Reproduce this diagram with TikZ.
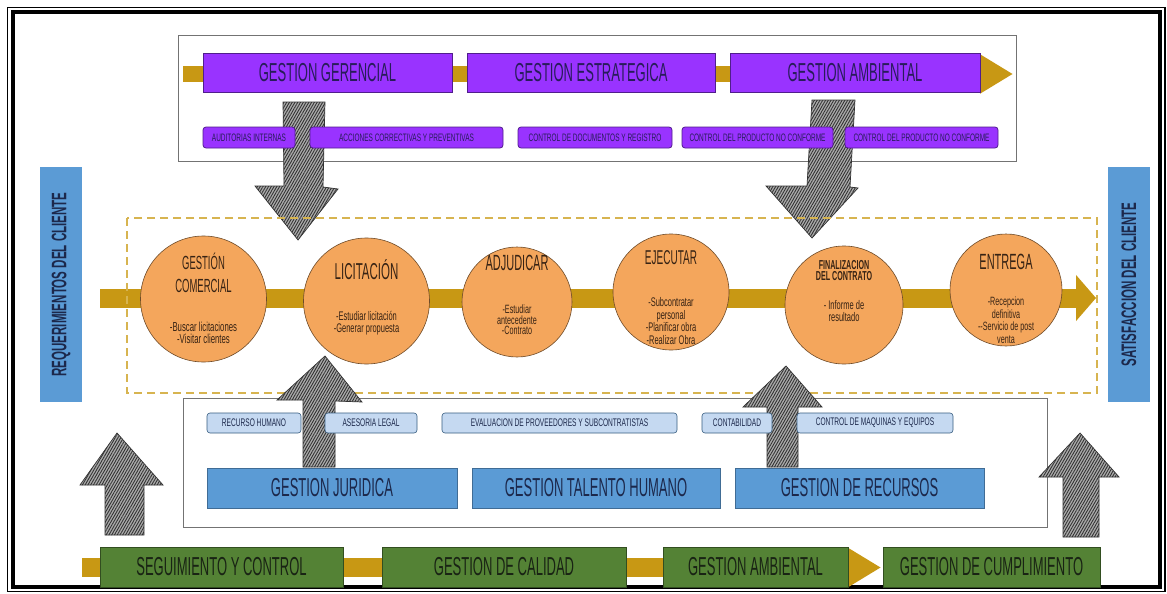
\documentclass[tikz,border=0pt]{standalone}
\usepackage{fontspec}
\setmainfont{Liberation Sans}
\newfontfamily\fA[FakeStretch=0.5]{Liberation Sans}
\newfontfamily\fB[FakeStretch=0.6]{Liberation Sans}
\newfontfamily\fC[FakeStretch=0.55]{Liberation Sans}
\usetikzlibrary{patterns.meta,arrows.meta,calc}
\definecolor{gold}{RGB}{200,152,20}
\definecolor{purp}{RGB}{153,51,255}
\definecolor{purpd}{RGB}{80,30,140}
\definecolor{navy}{RGB}{40,28,90}
\definecolor{navyb}{RGB}{28,40,75}
\definecolor{orng}{RGB}{244,166,92}
\definecolor{bluem}{RGB}{91,155,213}
\definecolor{bluel}{RGB}{197,217,241}
\definecolor{grn}{RGB}{84,130,53}
\definecolor{grntext}{RGB}{25,35,20}
\definecolor{dashgold}{RGB}{215,180,80}
\definecolor{brwn}{RGB}{55,35,20}
\begin{document}
\begin{tikzpicture}[x=1pt,y=-1pt,
  purplebar/.style={fill=purp, draw=purpd, line width=0.6pt, inner sep=0pt, text=navy,
    font=\fA\fontsize{26}{26}\selectfont, minimum height=39pt},
  purplesmall/.style={fill=purp, draw=purpd, rounded corners=3pt, line width=0.8pt,
    minimum height=21pt, inner sep=0pt, text=navy, font=\fB\fontsize{10.8}{11}\selectfont},
  bluebar/.style={fill=bluem, draw=bluem!70!black, line width=0.4pt, minimum height=40pt,
    inner sep=0pt, text=navyb, font=\fA\fontsize{26}{26}\selectfont},
  bluesmall/.style={fill=bluel, draw=bluem!60!black, rounded corners=3pt, line width=0.6pt,
    minimum height=20pt, inner sep=0pt, text=navyb, font=\fB\fontsize{11}{11}\selectfont},
  sidebox/.style={fill=bluem, draw=none, minimum width=42pt, minimum height=235pt, inner sep=0pt},
  sidetext/.style={rotate=90, text=navyb, font=\fC\bfseries\fontsize{21}{21}\selectfont},
  greenbar/.style={fill=grn, draw=grn!60!black, line width=0.4pt, minimum height=40pt,
    inner sep=0pt, text=grntext, font=\fA\fontsize{26}{26}\selectfont},
  circ/.style={circle, fill=orng, draw=orng!45!black, line width=0.6pt, inner sep=0pt},
  ctitle/.style={align=center, text=brwn, inner sep=0pt},
  csub/.style={align=center, text=brwn, inner sep=0pt},
  hatch/.style={fill=gray!65, draw=black!80, line width=0.7pt,
    postaction={pattern={Lines[angle=60,distance=2.4pt,line width=0.9pt]}, pattern color=black!80}},
  flow/.style={draw=gold, line width=#1, line cap=butt},
  frame/.style={draw=black!55, line width=0.7pt}
]
\useasboundingbox (0,0) rectangle (1167,594);
\fill[white] (0,0) rectangle (1167,594);

% outer frame
\draw[black, line width=1.5pt] (7.5,7.5) rectangle (1165,591.5);
\draw[black, line width=4pt] (12.5,12.5) rectangle (1160,587);

% ================= TOP SECTION =================
\draw[frame] (178,35) rectangle (1016,161);
\coordinate (ta0) at (183,74);
\coordinate (ta1) at (1013,74);
\draw[flow=16pt, -{Triangle[width=37pt,length=33pt]}] (ta0) -- (ta1);
\node[purplebar, minimum width=249pt] (gg) at (327.5,72.5) {GESTION GERENCIAL};
\node[purplebar, minimum width=248pt] (ge) at (591,72.5) {GESTION ESTRATEGICA};
\node[purplebar, minimum width=250pt] (gam) at (855,72.5) {GESTION AMBIENTAL};

% down hatched arrows
\path[hatch] (283,102) -- (325,102) -- (323,187) -- (338,189) -- (298,240) -- (255,186) -- (284,186) -- cycle;
\path[hatch] (812,100) -- (855,100) -- (850,187) -- (858,188) -- (812,238) -- (766,186) -- (807,186) -- cycle;

\node[purplesmall, minimum width=92pt] (ai) at (249,137.5) {AUDITORIAS INTERNAS};
\node[purplesmall, minimum width=193pt] (acp) at (406.5,137.5) {ACCIONES CORRECTIVAS Y PREVENTIVAS};
\node[purplesmall, minimum width=154pt] (cdr) at (595,137.5) {CONTROL DE DOCUMENTOS Y REGISTRO};
\node[purplesmall, minimum width=151pt] (cpn1) at (757.5,137.5) {CONTROL DEL PRODUCTO NO CONFORME};
\node[purplesmall, minimum width=153pt] (cpn2) at (921.5,137.5) {CONTROL DEL PRODUCTO NO CONFORME};

% ================= SIDE BOXES =================
\node[sidebox] (req) at (61,284.5) {};
\node[sidetext] at (req.center) {REQUERIMIENTOS DEL CLIENTE};
\node[sidebox] (sat) at (1129,284.5) {};
\node[sidetext] at (sat.center) {SATISFACCION DEL CLIENTE};

% ================= MIDDLE PROCESS =================
\coordinate (ma0) at (100,298);
\coordinate (ma1) at (1096,298);
\draw[flow=19pt, -{Triangle[width=45pt,length=20pt]}] (ma0) -- (ma1);
\draw[dashgold, line width=1.8pt, dash pattern=on 8pt off 5pt] (127,218) rectangle (1097,393);

\node[circ, minimum size=126pt] (c1) at (203.5,299) {};
\node[circ, minimum size=126pt] (c2) at (366.5,301) {};
\node[circ, minimum size=110pt] (c3) at (517,302) {};
\node[circ, minimum size=116pt] (c4) at (671,292) {};
\node[circ, minimum size=118pt] (c5) at (844,305) {};
\node[circ, minimum size=112pt] (c6) at (1006,290) {};

\node[ctitle, font=\fA\fontsize{19}{23}\selectfont] (t1) at (203.5,273) {GESTIÓN\\COMERCIAL};
\node[csub, font=\fB\fontsize{13}{12.5}\selectfont] (s1) at (203.5,333) {-Buscar licitaciones\\-Visitar clientes};

\node[ctitle, font=\fA\fontsize{23}{23}\selectfont] (t2) at (366.5,270) {LICITACIÓN};
\node[csub, font=\fB\fontsize{12.5}{12}\selectfont] (s2) at (366.5,323) {-Estudiar licitación\\-Generar propuesta};

\node[ctitle, font=\fA\fontsize{22}{22}\selectfont] (t3) at (517,263) {ADJUDICAR};
\node[csub, font=\fB\fontsize{12}{10.5}\selectfont] (s3) at (517,320) {-Estudiar\\antecedente\\-Contrato};

\node[ctitle, font=\fA\fontsize{20}{20}\selectfont] (t4) at (671,258) {EJECUTAR};
\node[csub, font=\fB\fontsize{12.5}{12.5}\selectfont] (s4) at (671,321) {-Subcontratar\\personal\\-Planificar obra\\-Realizar Obra};

\node[ctitle, font=\fC\bfseries\fontsize{13}{11.5}\selectfont] (t5) at (844,270.5) {FINALIZACION\\DEL CONTRATO};
\node[csub, font=\fB\fontsize{12.5}{12}\selectfont] (s5) at (844,311) {- Informe de\\resultado};

\node[ctitle, font=\fA\fontsize{22}{22}\selectfont] (t6) at (1006,262) {ENTREGA};
\node[csub, font=\fB\fontsize{12}{12.5}\selectfont] (s6) at (1006,320) {-Recepcion\\definitiva\\--Servicio de post\\venta};

% ================= BOTTOM SUPPORT SECTION =================
\draw[frame] (183,398) rectangle (1047,527);

\path[hatch] (325,356) -- (362,402) -- (335,401) -- (335,467) -- (303,467) -- (303,400) -- (277,400) -- cycle;
\path[hatch] (786,366) -- (822,407) -- (798,407) -- (798,467) -- (767,467) -- (767,407) -- (743,407) -- cycle;

\node[bluesmall, minimum width=94pt] (rh) at (254,423) {RECURSO HUMANO};
\node[bluesmall, minimum width=92pt] (al) at (371,423) {ASESORIA LEGAL};
\node[bluesmall, minimum width=235pt] (eps) at (559.5,423) {EVALUACION DE PROVEEDORES Y SUBCONTRATISTAS};
\node[bluesmall, minimum width=70pt] (cont) at (737,423) {CONTABILIDAD};
\node[bluesmall, minimum width=156pt] (cmq) at (875,423) {CONTROL DE MAQUINAS Y EQUIPOS};

\node[bluebar, minimum width=250pt] (gj) at (332,488) {GESTION JURIDICA};
\node[bluebar, minimum width=248pt] (gth) at (596,488) {GESTION TALENTO HUMANO};
\node[bluebar, minimum width=249pt] (gr) at (859.5,488) {GESTION DE RECURSOS};

% outer up arrows
\path[hatch] (117,433) -- (163,485) -- (144,485) -- (144,535) -- (105,535) -- (105,485) -- (80,485) -- cycle;
\path[hatch] (1080,433) -- (1119,477) -- (1099,477) -- (1099,537) -- (1063,537) -- (1063,477) -- (1039,477) -- cycle;

% ================= BOTTOM FLOW =================
\coordinate (ba0) at (82,567.5);
\coordinate (ba1) at (881,567.5);
\draw[flow=19pt, -{Triangle[width=37pt,length=33pt]}] (ba0) -- (ba1);
\node[greenbar, minimum width=243pt] (syc) at (221.5,567) {SEGUIMIENTO Y CONTROL};
\node[greenbar, minimum width=244pt] (gdc) at (504,567) {GESTION DE CALIDAD};
\node[greenbar, minimum width=185pt] (gamb) at (755.5,567) {GESTION AMBIENTAL};
\node[greenbar, minimum width=217pt] (gcu) at (991.5,567) {GESTION DE CUMPLIMIENTO};
\end{tikzpicture}
\end{document}
